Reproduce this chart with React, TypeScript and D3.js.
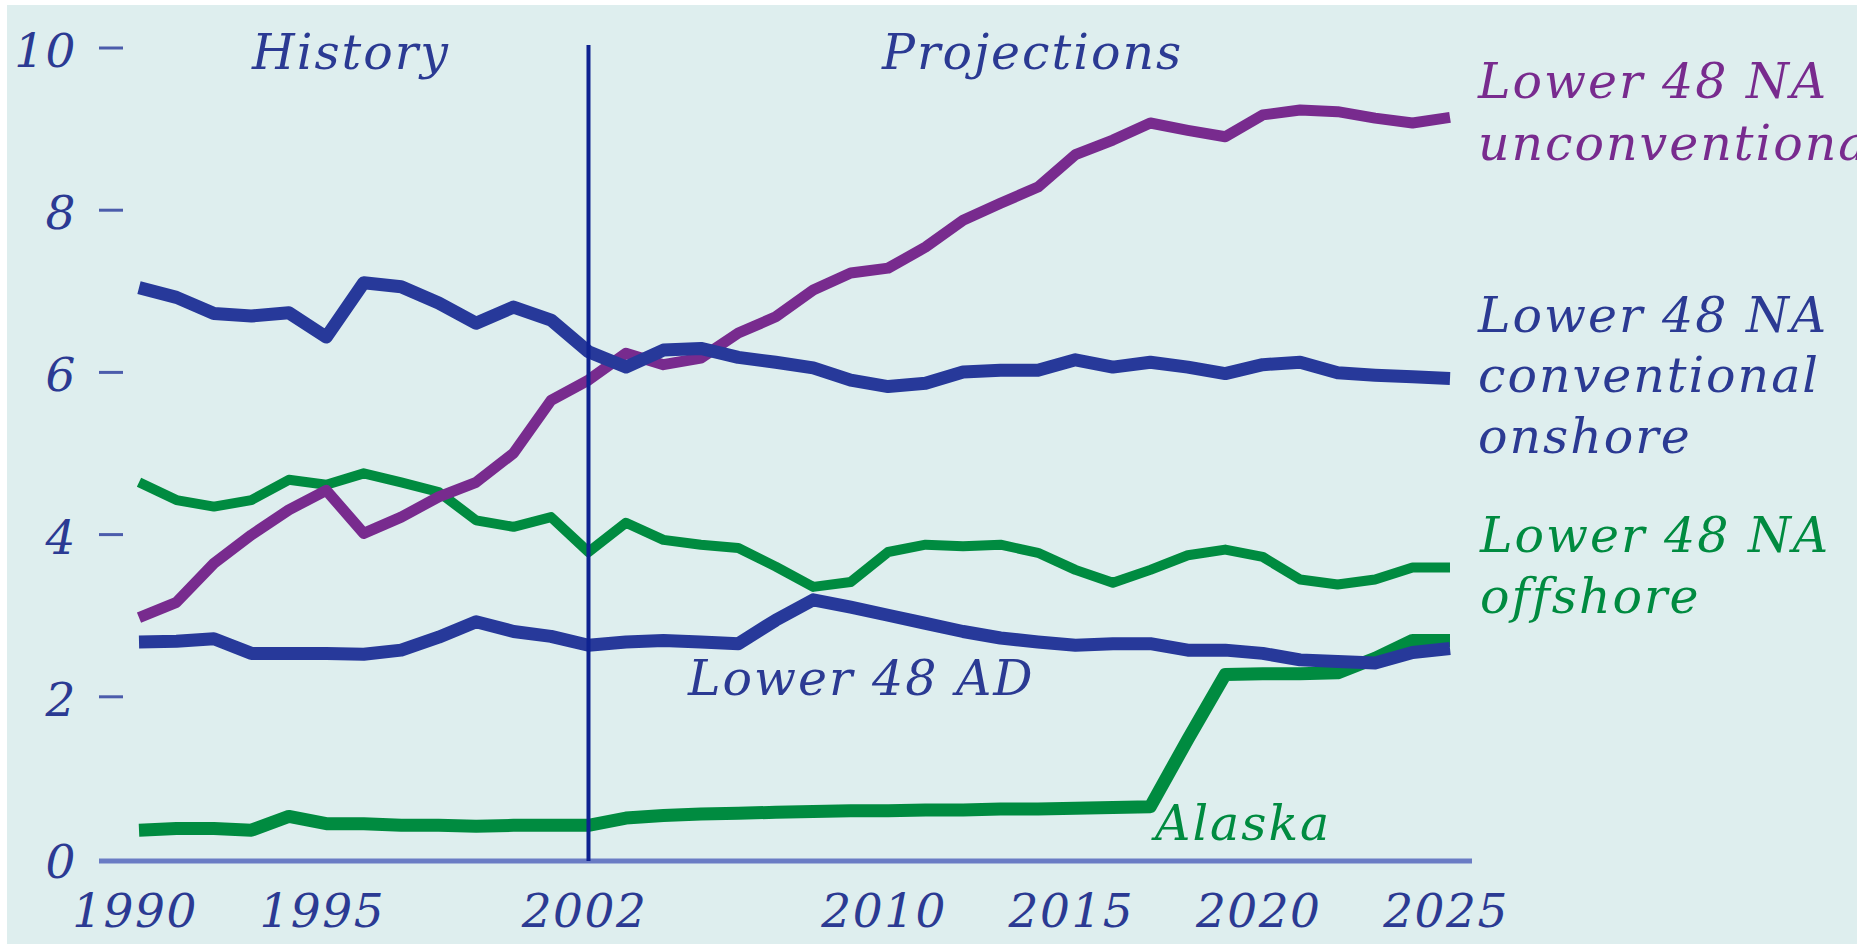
import React from 'react';
import * as d3 from 'd3';

// years 1990..2025
const years = d3.range(1990, 2026);

const conventionalOnshore = [
  7.07, 6.95, 6.75, 6.72, 6.76, 6.46, 7.13, 7.08, 6.88, 6.63,
  6.83, 6.67, 6.28, 6.09, 6.3, 6.32, 6.21, 6.15, 6.08, 5.93,
  5.85, 5.89, 6.03, 6.05, 6.05, 6.18, 6.09, 6.15, 6.09, 6.01,
  6.12, 6.15, 6.02, 5.99, 5.97, 5.95,
];
const unconventional = [
  3.0, 3.19, 3.67, 4.02, 4.33, 4.57, 4.04, 4.24, 4.49, 4.67,
  5.03, 5.68, 5.93, 6.26, 6.12, 6.2, 6.51, 6.71, 7.04, 7.25,
  7.31, 7.57, 7.9, 8.11, 8.31, 8.71, 8.89, 9.1, 9.01, 8.93,
  9.2, 9.26, 9.24, 9.16, 9.1, 9.17,
];
const offshore = [
  4.67, 4.45, 4.37, 4.45, 4.7, 4.64, 4.78, 4.67, 4.55, 4.2,
  4.12, 4.24, 3.81, 4.17, 3.96, 3.9, 3.86, 3.63, 3.38, 3.44,
  3.81, 3.9, 3.88, 3.9, 3.8, 3.59, 3.43, 3.59, 3.77, 3.84,
  3.75, 3.47, 3.41, 3.47, 3.62, 3.62,
];
const associatedDissolved = [
  2.7, 2.71, 2.74, 2.56, 2.56, 2.56, 2.55, 2.6, 2.76, 2.95,
  2.83, 2.77, 2.66, 2.7, 2.72, 2.7, 2.68, 2.97, 3.22, 3.13,
  3.03, 2.93, 2.83, 2.75, 2.7, 2.66, 2.68, 2.68, 2.6, 2.6,
  2.56, 2.48, 2.46, 2.44, 2.57, 2.62,
];
const alaska = [
  0.38, 0.4, 0.4, 0.38, 0.55, 0.46, 0.46, 0.44, 0.44, 0.43,
  0.44, 0.44, 0.44, 0.53, 0.56, 0.58, 0.59, 0.6, 0.61, 0.62,
  0.62, 0.63, 0.63, 0.64, 0.64, 0.65, 0.66, 0.67, 1.5, 2.3,
  2.31, 2.31, 2.32, 2.5, 2.72, 2.72,
];

const yTicks = [0, 2, 4, 6, 8, 10];
const xTickLabels = [1990, 1995, 2002, 2010, 2015, 2020, 2025];

const BLUE = '#27399a';
const PURPLE = '#782b8e';
const GREEN = '#008b40';
const TEXT_BLUE = '#2b3a93';
const BG = '#deeeee';

const series = [
  { name: 'offshore', values: offshore, color: GREEN, width: 10 },
  { name: 'alaska', values: alaska, color: GREEN, width: 13 },
  { name: 'unconventional', values: unconventional, color: PURPLE, width: 11 },
  { name: 'ad', values: associatedDissolved, color: BLUE, width: 13 },
  { name: 'conventional', values: conventionalOnshore, color: BLUE, width: 13 },
];

const axisFont = {
  fontFamily: '"DejaVu Serif", serif',
  fontStyle: 'italic',
  fontSize: 47,
  letterSpacing: 1.5,
};
// annotations are a touch wider than the axis labels
const font = { ...axisFont, fontSize: 49, letterSpacing: 2 };

export default function App() {
  const width = 1864;
  const height = 947;

  const x = d3.scaleLinear().domain([1990, 2025]).range([139, 1450]);
  const y = d3.scaleLinear().domain([0, 10]).range([861, 50]);

  const line = d3.line<number>()
    .x((_, i) => x(years[i]))
    .y((d) => y(d));

  return (
    <div style={{ position: 'absolute', left: 0, top: 0 }}>
      <svg width={width} height={height} style={{ display: 'block', background: '#fff' }}>
        <defs>
          <clipPath id="panel">
            <rect x={7} y={5} width={1850} height={939} />
          </clipPath>
        </defs>
        <rect x={7} y={5} width={1850} height={939} fill={BG} />

        <g clipPath="url(#panel)">
          {/* y axis labels and tick dashes */}
          {yTicks.map((t) => (
            <g key={t}>
              <text x={77} y={y(t)} dy="0.36em" textAnchor="end" fill={TEXT_BLUE} {...axisFont}>
                {t}
              </text>
              {t > 0 && (
                <line x1={99} x2={123} y1={y(t) - 2} y2={y(t) - 2} stroke="#4b5cab" strokeWidth={3} />
              )}
            </g>
          ))}

          {/* x axis */}
          <line x1={99} x2={1472} y1={y(0)} y2={y(0)} stroke="#6a7cc4" strokeWidth={5} />
          {xTickLabels.map((t) => (
            <text key={t} x={x(t) - 4} y={927} textAnchor="middle" fill={TEXT_BLUE} {...axisFont}>
              {t}
            </text>
          ))}

          {series.map((s) => (
            <path
              key={s.name}
              d={line(s.values) || ''}
              fill="none"
              stroke={s.color}
              strokeWidth={s.width}
              strokeLinejoin="round"
            />
          ))}

          {/* history / projections divider */}
          <line x1={x(2002)} x2={x(2002)} y1={45} y2={y(0)} stroke="#0e2290" strokeWidth={4} />

          <text x={252} y={69} fill={TEXT_BLUE} {...font}>History</text>
          <text x={882} y={69} fill={TEXT_BLUE} {...font}>Projections</text>

          <text x={1478} y={98} fill={PURPLE} {...font}>Lower 48 NA</text>
          <text x={1478} y={160} fill={PURPLE} {...font}>unconventional</text>

          <text x={1478} y={332} fill={TEXT_BLUE} {...font}>Lower 48 NA</text>
          <text x={1478} y={392} fill={TEXT_BLUE} {...font}>conventional</text>
          <text x={1478} y={453} fill={TEXT_BLUE} {...font}>onshore</text>

          <text x={1480} y={552} fill={GREEN} {...font}>Lower 48 NA</text>
          <text x={1480} y={613} fill={GREEN} {...font}>offshore</text>

          <text x={688} y={695} fill={TEXT_BLUE} {...font}>Lower 48 AD</text>
          <text x={1155} y={840} fill={GREEN} {...font}>Alaska</text>
        </g>
      </svg>
    </div>
  );
}
